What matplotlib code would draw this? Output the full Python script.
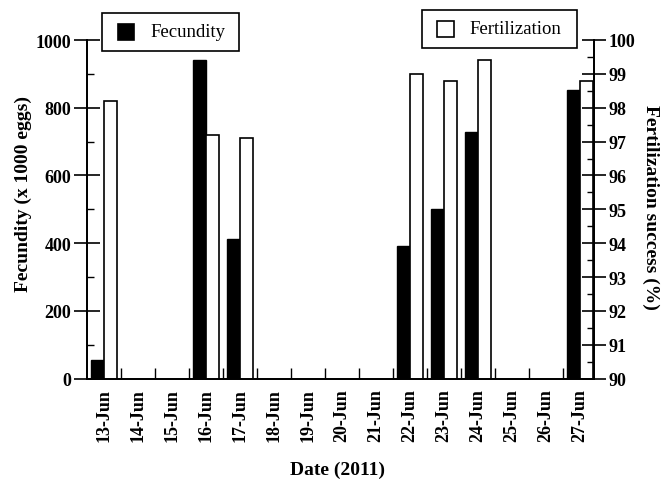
import numpy as np
import matplotlib
matplotlib.use("Agg")
import matplotlib.pyplot as plt
from matplotlib.ticker import MultipleLocator, FixedLocator
from matplotlib.patches import Rectangle

plt.rcParams['font.family'] = ['Liberation Serif', 'DejaVu Serif']

# data
dates = ['13-Jun', '14-Jun', '15-Jun', '16-Jun', '17-Jun', '18-Jun', '19-Jun', '20-Jun',
         '21-Jun', '22-Jun', '23-Jun', '24-Jun', '25-Jun', '26-Jun', '27-Jun']
fecundity = [55, None, None, 940, 412, None, None, None, None, 393, 502, 727, None, None, 851]
fertilization = [98.2, None, None, 97.2, 97.1, None, None, None, None, 99.0, 98.8, 99.4, None, None, 98.8]

W, H = 662, 481
x = np.arange(len(dates))
w = 0.37

fig = plt.figure(figsize=(W / 100, H / 100), dpi=100)
ax = fig.add_axes([87 / W, 1 - 379.7 / H, (594 - 87) / W, (379.7 - 41) / H])
ax2 = ax.twinx()

# fecundity bars (black)
fx = [xi for xi, v in zip(x, fecundity) if v is not None]
fv = [v for v in fecundity if v is not None]
ax.bar(np.array(fx) - w / 2, fv, width=w, color='black', edgecolor='black', linewidth=1)

# fertilization bars (white), drawn from the 90 % baseline
tx = [xi for xi, v in zip(x, fertilization) if v is not None]
tv = [v - 90 for v in fertilization if v is not None]
ax2.bar(np.array(tx) + w / 2, tv, width=w, bottom=90, color='white', edgecolor='black', linewidth=1.2)

ax.set_xlim(-0.5, 14.41)
ax.set_ylim(0, 1000)
ax2.set_ylim(90, 100)

for a in (ax, ax2):
    a.spines['top'].set_visible(False)
    for s in a.spines.values():
        s.set_linewidth(1.3)

# x ticks: labels at centres, small inward marks at boundaries
ax.set_xticks(x)
ax.set_xticklabels(dates, rotation=90, fontsize=13, fontweight='bold')
ax.tick_params(axis='x', which='major', length=0, pad=7)
ax.xaxis.set_minor_locator(FixedLocator(x[:-1] + 0.5))
ax.tick_params(axis='x', which='minor', direction='in', length=8, width=1)

# left y axis
ax.yaxis.set_major_locator(MultipleLocator(200))
ax.yaxis.set_minor_locator(MultipleLocator(100))
ax.tick_params(axis='y', which='major', direction='inout', length=19, width=1.2, labelsize=13, pad=2)
ax.tick_params(axis='y', which='minor', direction='in', length=5, width=1)
for lab in ax.get_yticklabels():
    lab.set_fontweight('bold')

# right y axis
ax2.yaxis.set_major_locator(MultipleLocator(1))
ax2.yaxis.set_minor_locator(MultipleLocator(0.5))
ax2.tick_params(axis='y', which='major', direction='inout', length=17, width=1.2, labelsize=13, pad=2)
ax2.tick_params(axis='y', which='minor', direction='in', length=5, width=1)
for lab in ax2.get_yticklabels():
    lab.set_fontweight('bold')

ax.set_ylabel('Fecundity (x 1000 eggs)', fontsize=14, fontweight='bold')
ax.yaxis.set_label_coords(-0.108, 0.548)
ax2.set_ylabel('Fertilization success (%)', fontsize=14, fontweight='bold', rotation=270, va='bottom')
ax2.yaxis.set_label_coords(1.095, 0.51)
ax.set_xlabel('Date (2011)', fontsize=14, fontweight='bold')
ax.xaxis.set_label_coords(0.495, -0.243)


def legend_box(x0, y0, x1, y1, sq, face, label, tx):
    # frame and swatch in pixel coordinates from the top-left corner
    fig.patches.append(Rectangle((x0 / W, 1 - y1 / H), (x1 - x0) / W, (y1 - y0) / H,
                                 transform=fig.transFigure, facecolor='white',
                                 edgecolor='black', linewidth=1.2, zorder=5))
    sx0, sy0, sx1, sy1 = sq
    fig.patches.append(Rectangle((sx0 / W, 1 - sy1 / H), (sx1 - sx0) / W, (sy1 - sy0) / H,
                                 transform=fig.transFigure, facecolor=face,
                                 edgecolor='black', linewidth=1.2, zorder=6))
    fig.text(tx / W, 1 - (sy0 + sy1) / 2 / H, label, fontsize=13.5, va='center', ha='left', zorder=7)


legend_box(102, 14, 239, 52, (118, 25, 134, 41), 'black', 'Fecundity', 150)
legend_box(422, 11, 577, 49, (437, 22, 454, 38), 'white', 'Fertilization', 469)

fig.savefig('out.png', dpi=100)
